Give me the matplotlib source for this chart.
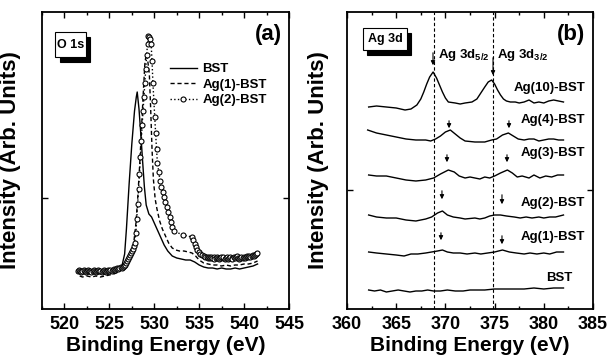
import matplotlib
matplotlib.use("Agg")
import matplotlib.pyplot as plt
from matplotlib.patches import Rectangle
from matplotlib.ticker import MultipleLocator

plt.rcParams['font.family'] = ['Liberation Sans', 'DejaVu Sans']
plt.rcParams['font.weight'] = 'bold'
plt.rcParams['axes.labelweight'] = 'bold'
plt.rcParams['mathtext.fontset'] = 'custom'
plt.rcParams['mathtext.rm'] = 'Liberation Sans:bold'
plt.rcParams['mathtext.bf'] = 'Liberation Sans:bold'

# ---- panel (a): O 1s ----
bst_e = [521.7, 522.0, 522.5, 523.0, 523.5, 524.0, 524.5, 525.0, 525.5, 526.0, 526.4, 526.7,
         526.9, 527.2, 527.5, 527.8, 528.0, 528.1, 528.3, 528.5, 528.7, 528.9, 529.1, 529.4,
         529.7, 530.0, 530.3, 530.7, 531.1, 531.5, 532.0, 532.5, 533.0, 533.5, 534.0, 534.5,
         535.0, 535.5, 536.0, 536.5, 537.0, 537.5, 538.0, 538.5, 539.0, 539.5, 540.0, 540.5,
         541.0, 541.5]
bst_i = [38, 37, 38, 37, 38, 38, 37, 38, 39, 41, 43, 55,
         80, 125, 165, 198, 212, 217, 200, 175, 148, 122, 104, 95,
         92, 86, 80, 72, 64, 58, 53, 51, 50, 49, 49, 47,
         44, 42, 41, 41, 40, 41, 40, 40, 41, 40, 41, 42,
         43, 45]

ag1_e = [521.7, 522.0, 522.5, 523.0, 523.5, 524.0, 524.5, 525.0, 525.5, 526.0, 526.5, 527.0,
         527.4, 527.7, 527.95, 528.15, 528.35, 528.55, 528.75, 528.95, 529.1, 529.25, 529.45,
         529.6, 529.75, 529.9, 530.1, 530.3, 530.6, 530.9, 531.2, 531.6, 532.0, 532.4, 532.8,
         533.3, 533.8, 534.2, 534.6, 535.0, 535.5, 536.0, 536.5, 537.0, 537.5, 538.0, 538.5,
         539.0, 539.5, 540.0, 540.5, 541.0, 541.5]
ag1_i = [33, 32, 33, 32, 33, 32, 33, 34, 35, 37, 41, 47,
         55, 65, 85, 110, 140, 175, 212, 245, 255, 250, 235,
         200, 160, 130, 110, 100, 88, 80, 74, 66, 61, 59, 58,
         58, 57, 56, 53, 49, 46, 45, 44, 44, 43, 44, 43,
         44, 44, 45, 45, 46, 48]

# Ag(2)-BST points (energy, intensity)
ag2_pts = [
    (521.5, 38), (521.625, 39), (521.75, 38), (521.875, 37), (522.0, 38), (522.125, 39),
    (522.25, 38), (522.375, 37), (522.5, 38), (522.625, 39), (522.75, 38), (522.875, 38),
    (523.0, 37), (523.125, 38), (523.25, 39), (523.375, 38), (523.5, 37), (523.625, 38),
    (523.75, 39), (523.875, 38), (524.0, 38), (524.125, 37), (524.25, 38), (524.375, 39),
    (524.5, 38), (524.625, 37), (524.75, 38), (524.875, 39), (525.0, 38), (525.125, 39),
    (525.25, 38), (525.375, 39), (525.5, 40), (525.625, 39), (525.75, 40), (525.875, 41),
    (526.0, 40), (526.125, 41), (526.25, 42), (526.375, 41), (526.5, 42), (526.625, 43),
    (526.75, 44), (526.875, 46), (527.0, 48), (527.1, 50), (527.2, 52), (527.3, 54),
    (527.4, 56), (527.5, 58), (527.6, 60), (527.7, 63), (527.8, 66), (527.95, 76),
    (528.05, 90), (528.15, 105), (528.25, 120), (528.35, 135), (528.45, 152), (528.55, 168),
    (528.65, 184), (528.75, 198), (528.85, 212), (528.95, 226), (529.05, 240), (529.15, 254),
    (529.25, 265), (529.35, 273), (529.45, 272), (529.55, 270), (529.65, 265), (529.75, 248),
    (529.85, 226), (529.95, 208), (530.05, 192), (530.15, 176), (530.25, 160), (530.35, 146),
    (530.5, 137), (530.65, 128), (530.8, 122), (530.95, 117), (531.1, 112), (531.25, 107),
    (531.4, 102), (531.55, 97), (531.7, 92), (531.85, 87), (532.0, 82), (532.15, 78),
    (533.2, 74), (534.2, 72), (534.35, 69), (534.5, 65), (534.65, 62), (534.8, 59),
    (534.95, 57), (535.1, 55), (535.3, 54), (535.5, 53), (535.7, 52), (535.85, 52),
    (535.95, 51), (536.1, 52), (536.2, 51), (536.35, 52), (536.45, 51), (536.6, 52),
    (536.7, 50), (536.85, 51), (536.95, 52), (537.1, 51), (537.2, 50), (537.35, 51),
    (537.45, 52), (537.6, 51), (537.7, 52), (537.85, 50), (537.95, 51), (538.1, 52),
    (538.2, 50), (538.35, 51), (538.45, 52), (538.6, 51), (538.7, 50), (538.85, 52),
    (538.95, 51), (539.1, 52), (539.2, 53), (539.35, 51), (539.45, 50), (539.6, 51),
    (539.7, 52), (539.85, 51), (539.95, 52), (540.1, 51), (540.2, 52), (540.35, 53),
    (540.45, 52), (540.6, 53), (540.7, 52), (540.85, 53), (540.95, 54), (541.1, 53),
    (541.2, 54), (541.35, 55), (541.45, 56),
]
ag2_e, ag2_i = zip(*ag2_pts)

# ---- panel (b): Ag 3d ----
ag10_e = [362.2, 363.0, 364.0, 365.0, 365.9, 366.5, 367.1, 367.5, 367.8, 368.1, 368.4, 368.75,
          369.1, 369.4, 369.7, 370.0, 370.3, 371.0, 371.5, 372.0, 372.7, 373.2, 373.6, 374.0,
          374.35, 374.7, 375.0, 375.3, 375.6, 375.9, 376.2, 376.6, 377.1, 377.5, 378.0, 378.5,
          379.0, 379.5, 380.0, 380.5, 381.0, 381.5, 382.0]
ag10_i = [202, 203, 202, 201, 199, 200, 204, 210, 217, 225, 232, 237,
          231, 224, 217, 211, 207, 206, 205, 206, 207, 210, 216, 222,
          227, 229, 225, 219, 214, 210, 208, 207, 207, 206, 207, 209,
          206, 207, 206, 208, 209, 208, 207]

ag4_e = [362.1, 363.0, 364.0, 365.0, 366.0, 367.0, 368.0, 368.5, 369.0, 369.5, 370.0, 370.5,
         371.0, 371.5, 372.0, 373.0, 374.0, 374.7, 375.2, 375.8, 376.4, 376.9, 377.4, 378.0,
         378.5, 379.0, 379.5, 380.0, 380.5, 381.0, 381.5, 382.0]
ag4_i = [179, 176, 174, 172, 170, 169, 169, 168, 170, 173, 177, 179,
         175, 171, 168, 167, 167, 169, 170, 174, 176, 173, 170, 169,
         170, 170, 168, 169, 170, 170, 169, 169]

ag3_e = [362.2, 363.0, 364.0, 365.0, 366.0, 367.0, 368.0, 368.8, 369.5, 370.3, 370.9, 371.4,
         372.0, 372.5, 373.0, 373.5, 374.0, 374.5, 375.0, 375.6, 376.3, 376.8, 377.3, 377.8,
         378.5, 379.0, 379.6, 380.2, 380.8, 381.4, 382.0]
ag3_i = [134, 133, 133, 131, 129, 128, 129, 131, 135, 139, 137, 133,
         131, 132, 131, 130, 132, 131, 133, 136, 139, 136, 132, 133,
         131, 134, 131, 133, 132, 134, 134]

ag2b_e = [362.2, 363.0, 364.0, 365.0, 366.0, 367.0, 368.0, 368.6, 369.2, 369.7, 370.2, 370.8,
          371.5, 372.0, 373.0, 373.5, 374.0, 374.5, 375.0, 375.6, 376.2, 377.0, 377.6, 378.2,
          378.8, 379.5, 380.0, 380.6, 381.2, 382.0]
ag2b_i = [94, 92, 91, 91, 89, 88, 90, 92, 96, 98, 94, 92,
          91, 90, 91, 90, 91, 93, 94, 94, 93, 92, 91, 92,
          91, 92, 91, 92, 92, 94]

ag1b_e = [362.2, 363.0, 364.0, 365.0, 365.8, 366.5, 367.2, 368.0, 368.6, 369.2, 369.7, 370.2,
          370.8, 371.5, 372.2, 373.0, 373.6, 374.3, 375.0, 375.8, 376.5, 377.2, 378.0, 378.6,
          379.3, 380.0, 380.6, 381.3, 382.0]
ag1b_i = [57, 56, 55, 54, 53, 55, 55, 56, 57, 58, 59, 57,
          56, 56, 55, 56, 55, 56, 57, 59, 57, 56, 55, 56,
          55, 56, 55, 57, 57]

bstb_e = [362.2, 362.8, 363.4, 364.0, 364.6, 365.2, 365.8, 366.4, 367.0, 367.6, 368.2, 368.8,
          369.5, 370.2, 371.0, 371.8, 372.5, 373.2, 374.0, 375.0, 376.0, 377.0, 378.0, 379.0,
          380.0, 381.0, 382.0]
bstb_i = [19, 18, 19, 17, 18, 19, 18, 17, 18, 18, 19, 18,
          18, 19, 18, 18, 19, 19, 19, 20, 20, 20, 20, 21,
          20, 21, 21]

b_names = ['Ag(10)-BST', 'Ag(4)-BST', 'Ag(3)-BST', 'Ag(2)-BST', 'Ag(1)-BST', 'BST']
b_label_x = [384.2, 384.2, 384.2, 384.2, 384.2, 382.9]
b_label_y = [221, 189, 156, 106, 72, 31]
peak_lines = [368.8, 374.8]
# small arrows (energy, tail, tip)
arrows = [(370.37, 191, 178), (376.46, 191, 178),
          (370.16, 157, 144), (376.26, 157, 144),
          (369.65, 121, 107), (375.75, 117, 102),
          (369.55, 79, 66), (375.75, 76, 62)]

ticks_a = [520, 525, 530, 535, 540, 545]
ticks_b = [360, 365, 370, 375, 380, 385]

fig = plt.figure(figsize=(6.09, 3.58), dpi=100)
ax1 = fig.add_axes([42 / 609, 1 - 309 / 358, 247 / 609, 297 / 358])
ax2 = fig.add_axes([347 / 609, 1 - 309 / 358, 246 / 609, 297 / 358])

ax1.plot(bst_e, bst_i, '-', color='k', lw=1.0, label='BST')
ax1.plot(ag1_e, ag1_i, '--', color='k', lw=1.0, dashes=(3, 2), label='Ag(1)-BST')
ax1.plot(ag2_e, ag2_i, ':', color='k', lw=1.0, marker='o', ms=3.6, mfc='white',
         mec='k', mew=0.8, label='Ag(2)-BST')
ax1.set_xlim(517.5, 545)
ax1.set_ylim(0, 297)
ax1.set_yticks([111])
ax1.set_xticks(ticks_a)
ax1.set_xticklabels([str(t) for t in ticks_a], fontsize=13, fontweight='bold')
ax1.legend(loc='upper left', bbox_to_anchor=(0.49, 0.85), frameon=False,
           prop={'size': 9.5, 'weight': 'bold'},
           handlelength=2.1, handletextpad=0.4, labelspacing=0.25, borderpad=0)
ax1.text(0.97, 0.96, '(a)', transform=ax1.transAxes, ha='right', va='top', fontsize=16,
         fontweight='bold')

ax2.plot(ag10_e, ag10_i, color='k', lw=1.0)
ax2.plot(ag4_e, ag4_i, color='k', lw=1.0)
ax2.plot(ag3_e, ag3_i, color='k', lw=1.0)
ax2.plot(ag2b_e, ag2b_i, color='k', lw=1.0)
ax2.plot(ag1b_e, ag1b_i, color='k', lw=1.0)
ax2.plot(bstb_e, bstb_i, color='k', lw=1.0)
for e in peak_lines:
    ax2.axvline(e, color='k', ls='--', lw=0.8, dashes=(3, 2))
for name, x, y in zip(b_names, b_label_x, b_label_y):
    ax2.text(x, y, name, ha='right', va='center', fontsize=9.5, fontweight='bold')
for e, y0, y1 in arrows:
    ax2.annotate('', xy=(e, y1), xytext=(e, y0),
                 arrowprops=dict(arrowstyle='-|>', color='k', lw=0.8, mutation_scale=6))
ax2.annotate('', xy=(368.74, 241), xytext=(368.74, 259),
             arrowprops=dict(arrowstyle='-|>', color='k', lw=0.8, mutation_scale=6))
ax2.annotate('', xy=(374.84, 231), xytext=(374.84, 254),
             arrowprops=dict(arrowstyle='-|>', color='k', lw=0.8, mutation_scale=6))
ax2.text(369.2, 254, r'Ag 3d$_{\mathbf{5/2}}$', ha='left', va='center', fontsize=9.5,
         fontweight='bold')
ax2.text(375.2, 254, r'Ag 3d$_{\mathbf{3/2}}$', ha='left', va='center', fontsize=9.5,
         fontweight='bold')
ax2.set_xlim(360, 385)
ax2.set_ylim(0, 297)
ax2.set_yticks([119])
ax2.set_xticks(ticks_b)
ax2.set_xticklabels([str(t) for t in ticks_b], fontsize=13, fontweight='bold')
ax2.text(0.97, 0.96, '(b)', transform=ax2.transAxes, ha='right', va='top', fontsize=16,
         fontweight='bold')

for ax, box, lab in [(ax1, (0.053, 0.848, 0.125, 0.085), 'O 1s'),
                     (ax2, (0.065, 0.872, 0.179, 0.074), 'Ag 3d')]:
    x0, y0, w, h = box
    ax.add_patch(Rectangle((x0 + 0.018, y0 - 0.016), w, h, transform=ax.transAxes,
                           fc='k', ec='k', lw=0.8, zorder=5))
    ax.add_patch(Rectangle((x0, y0), w, h, transform=ax.transAxes,
                           fc='white', ec='k', lw=0.8, zorder=6))
    ax.text(x0 + w / 2, y0 + h / 2, lab, transform=ax.transAxes, ha='center', va='center',
            fontsize=9, fontweight='bold', zorder=7)

for ax in (ax1, ax2):
    ax.set_yticklabels([])
    ax.xaxis.set_minor_locator(MultipleLocator(2.5))
    ax.tick_params(which='both', direction='in', top=True, right=True)
    ax.tick_params(which='major', length=4, width=1.0, pad=5)
    ax.tick_params(which='minor', length=2.5, width=1.0)
    for s in ax.spines.values():
        s.set_linewidth(1.3)
    ax.set_xlabel('Binding Energy (eV)', fontsize=15, fontweight='bold', labelpad=2)
    ax.set_ylabel('Intensity (Arb. Units)', fontsize=16, fontweight='bold')

ax1.yaxis.set_label_coords(-0.085, 0.5)
ax2.yaxis.set_label_coords(-0.073, 0.5)

fig.savefig('out.png', dpi=100)
